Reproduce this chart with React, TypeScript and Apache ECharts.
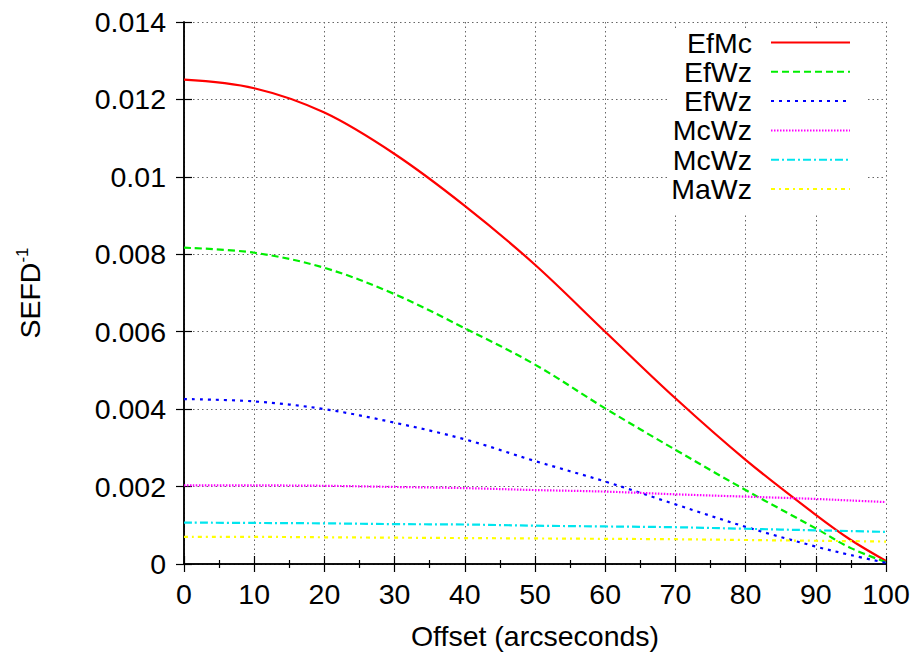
import React, { useEffect, useRef } from "react";
import * as echarts from "echarts";

const offsets = [0, 10, 20, 30, 40, 50, 60, 70, 80, 90, 95, 100];
const efMc = [0.01251, 0.01229, 0.01166, 0.01059, 0.00925, 0.00773, 0.006, 0.00428, 0.00269, 0.00127, 0.00062, 0.00008];
const efWzA = [0.00817, 0.00804, 0.00765, 0.00697, 0.00609, 0.00515, 0.00402, 0.00295, 0.00191, 0.00092, 0.00041, 0.00005];
const efWzB = [0.00426, 0.0042, 0.004, 0.00365, 0.00322, 0.00266, 0.00213, 0.00154, 0.00096, 0.00045, 0.00023, 0.00003];
const mcWzA = [0.00203, 0.00203, 0.00202, 0.00199, 0.00196, 0.00191, 0.00187, 0.0018, 0.00174, 0.00168, 0.00164, 0.0016];
const mcWzB = [0.00107, 0.00106, 0.00105, 0.00103, 0.00102, 0.00099, 0.00097, 0.00095, 0.00091, 0.00087, 0.00085, 0.00083];
const maWz = [0.0007, 0.0007, 0.00069, 0.00068, 0.00067, 0.00066, 0.00065, 0.00064, 0.00062, 0.0006, 0.00059, 0.00058];

const seriesDefs = [
  { name: "EfMc#1", values: efMc, color: "#ff0000", type: "solid" as any },
  { name: "EfWz#1", values: efWzA, color: "#00ee00", type: [7, 4] },
  { name: "EfWz#2", values: efWzB, color: "#0000ff", type: [3, 5] },
  { name: "McWz#1", values: mcWzA, color: "#ff00ff", type: [1.5, 1.5] },
  { name: "McWz#2", values: mcWzB, color: "#00e5ee", type: [8, 3, 2, 3] },
  { name: "MaWz#1", values: maWz, color: "#ffff00", type: [4, 4, 2, 4] },
];

const FONT = "Liberation Sans, Arial, Helvetica, sans-serif";
const FS = 28.5;

export default function App() {
  const ref = useRef<HTMLDivElement>(null);
  useEffect(() => {
    const chart = echarts.init(ref.current!, null, { renderer: "svg" });
    const gridLine = { show: true, lineStyle: { color: "#666", width: 1, type: [1.5, 3] } };
    const tick = { show: true, inside: true, length: 8, lineStyle: { color: "#000", width: 1.2 } };
    const minor = { show: true, splitNumber: 2, length: 4, lineStyle: { color: "#000", width: 1.2 } };
    const axisLine = { show: true, lineStyle: { color: "#000", width: 1.5 } };
    chart.setOption({
      animation: false,
      backgroundColor: "#fff",
      textStyle: { fontFamily: FONT },
      grid: { left: 184, right: 30, top: 22, bottom: 91, show: false },
      legend: {
        orient: "vertical",
        align: "right",
        right: 48,
        top: 28,
        itemWidth: 79,
        itemHeight: 14,
        itemGap: 0.3,
        padding: [0, 17, 10, 2],
        backgroundColor: "#fff",
        itemStyle: { opacity: 0, color: "rgba(0,0,0,0)", borderColor: "rgba(0,0,0,0)", borderWidth: 0 },
        formatter: (n: string) => n.split("#")[0],
        textStyle: { fontSize: FS, color: "#000", fontFamily: FONT, lineHeight: 29, padding: [0, 14, 0, 0] },
        data: seriesDefs.map((s) => s.name),
      },
      xAxis: [
        {
          type: "value",
          min: 0,
          max: 100,
          interval: 10,
          name: "Offset (arcseconds)",
          nameLocation: "middle",
          nameGap: 57,
          nameTextStyle: { fontSize: FS, color: "#000", fontFamily: FONT },
          axisLine,
          axisTick: tick,
          minorTick: minor,
          axisLabel: { fontSize: FS, color: "#000", margin: 15, fontFamily: FONT },
          splitLine: gridLine,
        },
        {
          type: "value",
          position: "top",
          min: 0,
          max: 100,
          interval: 10,
          axisLine,
          axisTick: tick,
          minorTick: minor,
          axisLabel: { show: false },
          splitLine: { show: false },
        },
      ],
      yAxis: [
        {
          type: "value",
          min: 0,
          max: 0.014,
          interval: 0.002,
          name: "{a|SEFD}{b|-1}",
          nameLocation: "middle",
          nameGap: 140,
          nameRotate: 90,
          nameTextStyle: {
            color: "#000",
            fontFamily: FONT,
            rich: {
              a: { fontSize: FS, color: "#000", fontFamily: FONT, lineHeight: 30, verticalAlign: "bottom" },
              b: { fontSize: 17, color: "#000", fontFamily: FONT, lineHeight: 30, verticalAlign: "top", padding: [0, 0, 12, 0] },
            },
          },
          axisLine,
          axisTick: tick,
          axisLabel: {
            fontSize: FS,
            color: "#000",
            margin: 18,
            fontFamily: FONT,
            formatter: (v: number) => String(+v.toFixed(3)),
          },
          splitLine: gridLine,
        },
        {
          type: "value",
          position: "right",
          min: 0,
          max: 0.014,
          interval: 0.002,
          axisLine,
          axisTick: tick,
          axisLabel: { show: false },
          splitLine: { show: false },
        },
      ],
      series: seriesDefs.map((s) => ({
        name: s.name,
        type: "line",
        xAxisIndex: 0,
        yAxisIndex: 0,
        smooth: 0.35,
        symbol: "none",
        color: s.color,
        lineStyle: { color: s.color, width: 2.2, type: s.type },
        data: offsets.map((x, i) => [x, s.values[i]]),
      })),
    });
    return () => chart.dispose();
  }, []);
  return (
    <div
      ref={ref}
      style={{ position: "fixed", left: 0, top: 0, width: 916, height: 655 }}
    />
  );
}
